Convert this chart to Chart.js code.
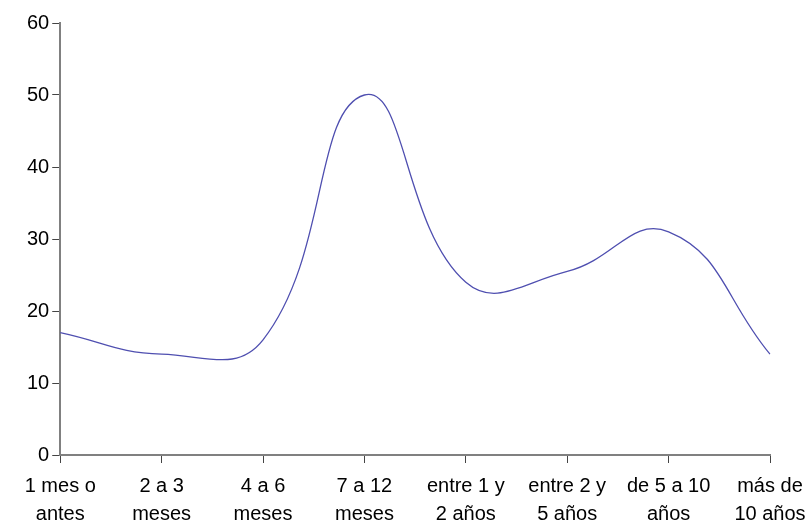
<!DOCTYPE html>
<html>
<head>
<meta charset="utf-8">
<script src="https://cdn.jsdelivr.net/npm/chart.js@4/dist/chart.umd.min.js"></script>
<style>
    html, body { margin: 0; padding: 0; background: #fff; }
    #wrap { width: 811px; height: 524px; }
</style>
</head>
<body>
<div id="wrap"><canvas id="lineChart" width="811" height="524"></canvas></div>
<script>
const categories = [
    ['1 mes o', 'antes'],
    ['2 a 3', 'meses'],
    ['4 a 6', 'meses'],
    ['7 a 12', 'meses'],
    ['entre 1 y', '2 años'],
    ['entre 2 y', '5 años'],
    ['de 5 a 10', 'años'],
    ['más de', '10 años']
];
const values = [17, 14, 16, 50, 24, 25.5, 31, 14];
const yTicks = [0, 10, 20, 30, 40, 50, 60];

const ctx = document.getElementById('lineChart').getContext('2d');

new Chart(ctx, {
    type: 'line',
    data: {
        labels: categories,
        datasets: [{
            data: values,
            borderColor: '#4f4fb0',
            borderWidth: 1.3,
            pointRadius: 0,
            fill: false,
            tension: 0.45
        }]
    },
    options: {
        responsive: false,
        animation: false,
        layout: {
            padding: { top: 23, right: 41, left: 24, bottom: 0 }
        },
        plugins: {
            legend: { display: false },
            tooltip: { enabled: false }
        },
        scales: {
            x: {
                offset: false,
                border: { color: '#808080', width: 2 },
                grid: {
                    drawOnChartArea: false,
                    tickLength: 8,
                    color: '#444'
                },
                ticks: {
                    color: '#000',
                    maxRotation: 0,
                    autoSkip: false,
                    padding: 9,
                    font: { family: 'Liberation Sans, Arial, sans-serif', size: 20, lineHeight: 1.4 }
                },
                // let the labels run to the canvas edges, like the original
                afterFit: axis => {
                    axis.height -= 13;
                    axis.paddingLeft = 0;
                    axis.paddingRight = 0;
                }
            },
            y: {
                min: 0,
                max: 60,
                afterBuildTicks: axis => {
                    axis.ticks = yTicks.map(v => ({ value: v }));
                },
                border: { color: '#808080', width: 2 },
                grid: {
                    drawOnChartArea: false,
                    tickLength: 8,
                    color: '#444'
                },
                ticks: {
                    color: '#000',
                    padding: 3,
                    font: { family: 'Liberation Sans, Arial, sans-serif', size: 20 }
                }
            }
        }
    }
});
</script>
</body>
</html>
